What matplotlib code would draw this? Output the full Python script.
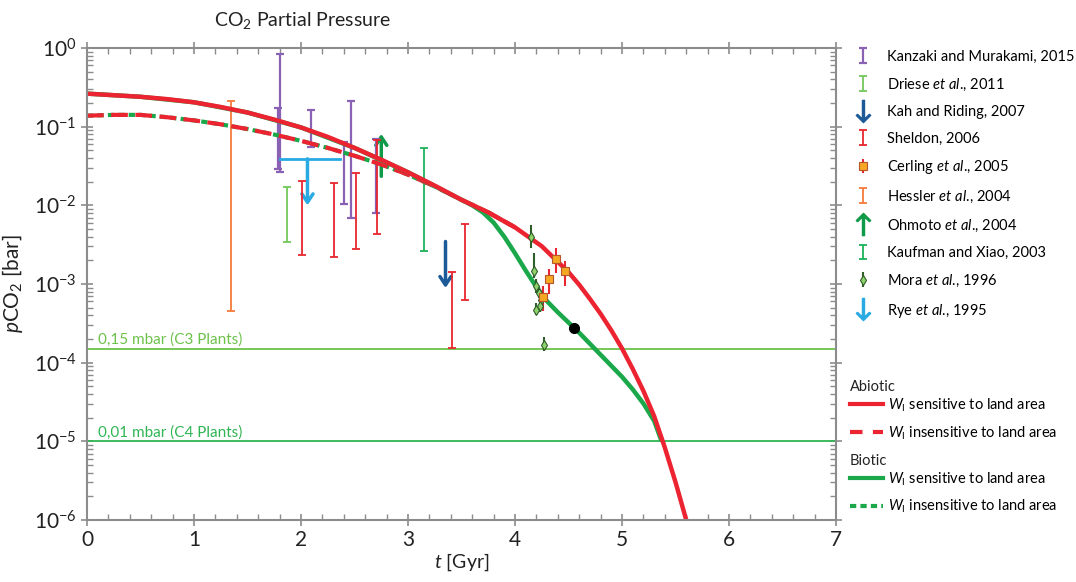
import numpy as np
import matplotlib
matplotlib.use('Agg')
import matplotlib.pyplot as plt
from matplotlib.lines import Line2D
from matplotlib.patches import FancyArrowPatch
from matplotlib.ticker import FixedLocator, LogFormatterSciNotation, MultipleLocator, NullFormatter

plt.rcParams['font.family'] = ['Lato', 'DejaVu Sans']
plt.rcParams['mathtext.fontset'] = 'custom'
plt.rcParams['mathtext.rm'] = 'Lato'
plt.rcParams['mathtext.it'] = 'Lato:italic'

# model curves: t in Gyr, log10 of pCO2 in bar
t_abio = [0, 0.25, 0.5, 0.75, 1.0, 1.25, 1.5, 1.75, 2.0, 2.25, 2.5, 2.75, 3.0, 3.25, 3.5, 3.75,
          4.0, 4.25, 4.5, 4.6, 4.7, 4.8, 4.9, 5.0, 5.1, 5.2, 5.3, 5.4, 5.5, 5.6]
lg_abio = [-0.58, -0.60, -0.62, -0.65, -0.69, -0.75, -0.82, -0.91, -1.01, -1.13, -1.27, -1.42,
           -1.58, -1.75, -1.93, -2.09, -2.28, -2.52, -2.85, -3.01, -3.19, -3.38, -3.59, -3.82,
           -4.08, -4.36, -4.68, -5.08, -5.52, -6.0]
t_bio = [0, 0.5, 1.0, 1.5, 2.0, 2.5, 3.0, 3.5, 3.6, 3.7, 3.8, 3.9, 4.0, 4.1, 4.2, 4.3, 4.4, 4.5,
         4.6, 4.7, 4.8, 4.9, 5.0, 5.1, 5.2, 5.3, 5.37]
lg_bio = [-0.58, -0.62, -0.69, -0.82, -1.01, -1.27, -1.58, -1.93, -2.00, -2.09, -2.22, -2.40,
          -2.61, -2.83, -3.04, -3.22, -3.36, -3.49, -3.62, -3.76, -3.90, -4.04, -4.18, -4.34,
          -4.52, -4.74, -5.0]
t_ins = [0, 0.25, 0.5, 0.75, 1.0, 1.25, 1.5, 1.75, 2.0, 2.25, 2.5, 2.75, 3.0, 3.25, 3.5, 3.75, 4.0]
lg_ins = [-0.86, -0.85, -0.85, -0.88, -0.92, -0.97, -1.03, -1.10, -1.18, -1.27, -1.37, -1.48,
          -1.61, -1.76, -1.93, -2.09, -2.28]

# proxy data (t in Gyr, pCO2 in bar)
kanzaki_t = [1.78, 1.80, 2.09, 2.40, 2.47, 2.70]
kanzaki_lo = [0.0288, 0.0263, 0.055, 0.0105, 0.0069, 0.0079]
kanzaki_hi = [0.174, 0.84, 0.162, 0.0646, 0.209, 0.069]
driese_t = [1.87]
driese_lo = [0.00347]
driese_hi = [0.017]
sheldon_t = [2.01, 2.31, 2.51, 2.71, 3.41, 3.53]
sheldon_lo = [0.00234, 0.00219, 0.00282, 0.00427, 0.000155, 0.00063]
sheldon_hi = [0.0204, 0.0195, 0.0257, 0.0676, 0.00141, 0.00575]
hessler_t = [1.35]
hessler_lo = [0.00045]
hessler_hi = [0.209]
kaufman_t = [3.15]
kaufman_lo = [0.00263]
kaufman_hi = [0.0537]
cerling_t = [4.38, 4.47, 4.32, 4.26]
cerling_p = [0.0021, 0.00145, 0.00115, 0.00069]
mora_t = [4.15, 4.18, 4.20, 4.22, 4.24, 4.23, 4.20, 4.27]
mora_p = [0.0040, 0.00145, 0.00093, 0.00078, 0.00063, 0.00052, 0.00047, 0.00017]
mora_hi = [0.0056, 0.0025, 0.00115, 0.00095, 0.00078, 0.00064, 0.00058, 0.00021]
mora_lo = [0.0029, 0.0012, 0.00078, 0.00066, 0.00053, 0.00044, 0.0004, 0.00014]
# arrows: (t, start, end)
ohmoto = (2.75, 0.0234, 0.081)
kah = (3.35, 0.00347, 0.00089)
rye_line = (1.80, 2.36, 0.039)
rye_arrow = (2.06, 0.039, 0.010)
today = (4.55, 2.8e-4)

c3, c4 = 1.5e-4, 1.0e-5
y_major = [1e-6, 1e-5, 1e-4, 1e-3, 1e-2, 1e-1, 1e0]

RED = '#ec2330'
GREEN = '#1aa84a'

fig = plt.figure(figsize=(10.76, 5.82), dpi=100)
ax = fig.add_axes([0.0809, 0.1065, 0.6961, 0.811])

ax.axhline(c3, color='#6cc24a', lw=1.3)
ax.axhline(c4, color='#2fb554', lw=1.3)
ax.text(0.1, c3 * 1.15, '0,15 mbar (C3 Plants)', color='#6cc24a', fontsize=11)
ax.text(0.1, c4 * 1.15, '0,01 mbar (C4 Plants)', color='#2fb554', fontsize=11)

def bars(t, lo, hi, color, lw=1.3):
    lo = np.array(lo); hi = np.array(hi)
    return ax.errorbar(t, lo, yerr=[np.zeros_like(lo), hi - lo], fmt='none', ecolor=color,
                       elinewidth=lw, capsize=3, capthick=lw)

def arrow(x, y0, y1, color):
    ax.add_patch(FancyArrowPatch((x, y0), (x, y1), arrowstyle='->,head_width=4,head_length=6',
                                 lw=2.5, color=color, shrinkA=0, shrinkB=0))

h_hess = bars(hessler_t, hessler_lo, hessler_hi, '#f47a3c')
h_kanz = bars(kanzaki_t, kanzaki_lo, kanzaki_hi, '#8a62b4', lw=1.6)
h_dri = bars(driese_t, driese_lo, driese_hi, '#72c85a')
h_shel = bars(sheldon_t, sheldon_lo, sheldon_hi, '#e8262f')
h_kauf = bars(kaufman_t, kaufman_lo, kaufman_hi, '#1db25a')

ax.plot(t_ins, 10 ** np.array(lg_ins), color=GREEN, lw=3, dashes=(1.5, 1))
ax.plot(t_ins, 10 ** np.array(lg_ins), color=RED, lw=3, dashes=(4, 1.8))
ax.plot(t_bio, 10 ** np.array(lg_bio), color=GREEN, lw=3.2, solid_capstyle='butt')
ax.plot(t_abio, 10 ** np.array(lg_abio), color=RED, lw=3.2, solid_capstyle='butt')

# arrows
arrow(ohmoto[0], ohmoto[1], ohmoto[2], '#0f9a4a')
arrow(kah[0], kah[1], kah[2], '#1d5a98')
ax.plot([rye_line[0], rye_line[1]], [rye_line[2], rye_line[2]], color='#29aae2', lw=2)
arrow(rye_arrow[0], rye_arrow[1], rye_arrow[2], '#29aae2')

mora_p = np.array(mora_p)
h_mora = ax.errorbar(mora_t, mora_p, yerr=[mora_p - np.array(mora_lo), np.array(mora_hi) - mora_p],
                     fmt='d', ms=5, mfc='#8fd16a', mec='#2f5e2a', mew=0.8, ecolor='#2f5e2a',
                     elinewidth=1.5)
cerling_p = np.array(cerling_p)
h_cerl = ax.errorbar(cerling_t, cerling_p, yerr=cerling_p * 0.35, fmt='s', ms=5.5, mfc='#f7a823',
                     mec='#b5552a', mew=0.8, ecolor='#e8262f', elinewidth=1.5)
ax.plot(today[0], today[1], 'o', color='black', ms=7)

ax.set_yscale('log')
ax.set_xlim(0, 7)
ax.set_ylim(1e-6, 1)
ax.xaxis.set_major_locator(MultipleLocator(1))
ax.xaxis.set_minor_locator(MultipleLocator(0.2))
ax.yaxis.set_major_locator(FixedLocator(y_major))
ax.yaxis.set_major_formatter(LogFormatterSciNotation())
ax.yaxis.set_minor_locator(FixedLocator([m * d for d in y_major[:-1] for m in range(2, 10)]))
ax.yaxis.set_minor_formatter(NullFormatter())
for s in ax.spines.values():
    s.set_color('#8c8c8c')
    s.set_linewidth(1.5)
ax.tick_params(which='major', direction='inout', length=8, width=1.2, color='#8c8c8c',
               top=True, right=True, labelsize=15, labelcolor='#222222')
ax.tick_params(which='minor', direction='in', length=4, width=1, color='#8c8c8c',
               top=True, right=True)
ax.set_xlabel('$\\it{t}$ [Gyr]', fontsize=14, labelpad=1, color='#222222')
ax.set_ylabel('$\\it{p}$CO$_2$ [bar]', fontsize=15, labelpad=6, color='#222222')
fig.text(0.281, 0.965, 'CO$_2$ Partial Pressure', fontsize=14, ha='center', va='center',
         color='#222222')

h_kah = Line2D([], [], ls='none', marker='$\\downarrow$', ms=16, color='#1d5a98')
h_ohm = Line2D([], [], ls='none', marker='$\\uparrow$', ms=16, color='#0f9a4a')
h_rye = Line2D([], [], ls='none', marker='$\\downarrow$', ms=16, color='#29aae2')
handles = [h_kanz, h_dri, h_kah, h_shel, h_cerl, h_hess, h_ohm, h_kauf, h_mora, h_rye]
labels = ['Kanzaki and Murakami, 2015', 'Driese $\\it{et\\ al}$., 2011', 'Kah and Riding, 2007',
          'Sheldon, 2006', 'Cerling $\\it{et\\ al}$., 2005', 'Hessler $\\it{et\\ al}$., 2004',
          'Ohmoto $\\it{et\\ al}$., 2004', 'Kaufman and Xiao, 2003', 'Mora $\\it{et\\ al}$., 1996',
          'Rye $\\it{et\\ al}$., 1995']
leg1 = fig.legend(handles, labels, loc='upper left', bbox_to_anchor=(0.7814, 0.937), frameon=False,
                  fontsize=10.5, labelspacing=0.86, handlelength=1.2, handletextpad=1.05)

h_a1 = Line2D([], [], color=RED, lw=3)
h_a2 = Line2D([], [], color=RED, lw=3, dashes=(3, 2.5))
h_b1 = Line2D([], [], color=GREEN, lw=3)
h_b2 = Line2D([], [], color=GREEN, lw=3, dashes=(1.5, 1))
w_labels = ['$\\it{W}_\\mathrm{I}$ sensitive to land area',
            '$\\it{W}_\\mathrm{I}$ insensitive to land area']
kw2 = dict(loc='center left', frameon=False, fontsize=10.5, labelspacing=0.7,
           handlelength=2.26, handletextpad=0.34, borderpad=0.3)
leg2 = fig.legend([h_a1, h_a2], w_labels, bbox_to_anchor=(0.779, 0.280), **kw2)
leg3 = fig.legend([h_b1, h_b2], w_labels, bbox_to_anchor=(0.779, 0.153), **kw2)
fig.text(0.790, 0.335, 'Abiotic', fontsize=10.5, va='center', color='#222222')
fig.text(0.790, 0.208, 'Biotic', fontsize=10.5, va='center', color='#222222')

fig.savefig('out.png', dpi=100)
